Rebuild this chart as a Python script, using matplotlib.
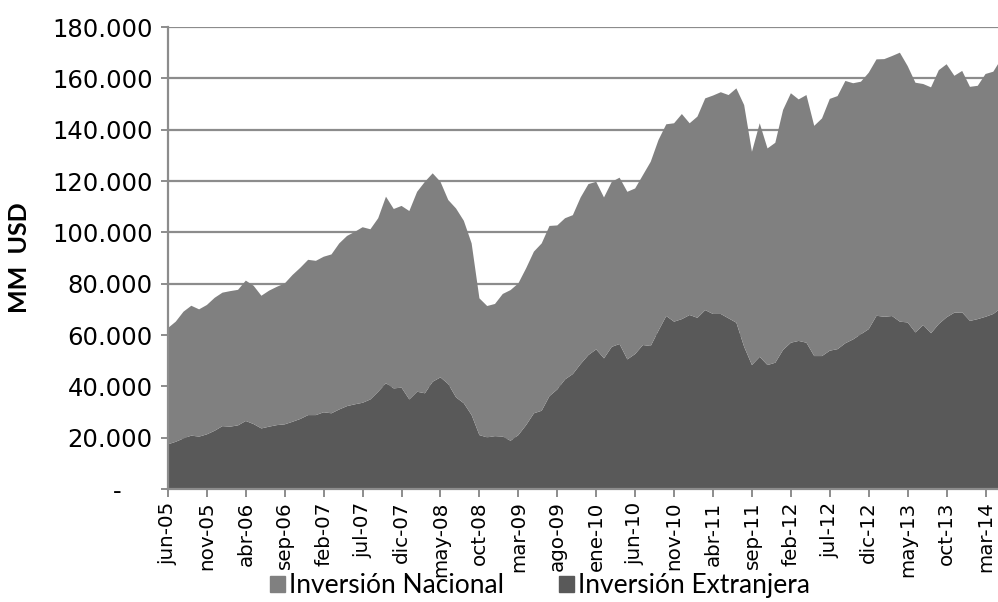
import matplotlib
matplotlib.use("Agg")
import matplotlib.pyplot as plt
import numpy as np
from matplotlib.ticker import FuncFormatter
from matplotlib.patches import Patch

# monthly data, jun-05 .. may-14 (MM USD, thousands)
extranjera = [17.4, 18.4, 19.7, 20.8, 20.4, 21.3, 22.7, 24.5, 24.3, 24.8,
              26.5, 25.3, 23.6, 24.3, 24.9, 25.2, 26.2, 27.3, 28.8, 28.8,
              29.9, 29.5, 31.0, 32.3, 33.0, 33.6, 34.9, 37.9, 41.2, 39.2,
              39.5, 34.9, 37.9, 37.3, 41.8, 43.5, 40.9, 35.7, 33.4, 28.8,
              21.0, 20.1, 20.6, 20.4, 18.8, 21.0, 24.9, 29.5, 30.5, 36.2,
              38.8, 42.7, 44.8, 48.7, 52.2, 54.4, 50.9, 55.4, 56.5, 50.5,
              52.6, 56.1, 55.7, 61.7, 67.4, 65.2, 66.2, 67.8, 66.7, 69.7,
              68.2, 68.2, 66.5, 64.8, 55.4, 48.3, 51.5, 48.3, 49.2, 54.2,
              57.0, 57.7, 57.0, 51.8, 51.8, 53.9, 54.5, 56.8, 58.3, 60.3,
              62.3, 67.5, 67.1, 67.4, 65.2, 64.9, 61.0, 63.9, 60.7, 64.3,
              66.9, 68.7, 68.8, 65.5, 66.2, 67.1, 68.2, 70.5]
nacional = [45.3, 46.8, 49.4, 50.6, 49.6, 50.4, 51.8, 52.0, 52.8, 52.8,
            54.7, 53.9, 51.7, 53.0, 53.9, 54.9, 57.2, 58.9, 60.5, 60.1,
            60.6, 61.9, 64.7, 66.3, 67.2, 68.4, 66.3, 67.6, 72.7, 69.9,
            70.8, 73.4, 77.9, 82.4, 81.2, 76.2, 71.7, 73.6, 71.1, 66.9,
            53.3, 51.2, 51.5, 55.6, 58.7, 59.1, 61.1, 63.0, 65.2, 66.3,
            63.9, 62.8, 61.9, 64.9, 66.6, 65.3, 62.7, 64.3, 64.8, 65.3,
            64.5, 66.2, 71.8, 74.3, 74.7, 77.3, 79.9, 74.7, 78.4, 82.5,
            85.1, 86.4, 87.0, 91.3, 94.2, 83.1, 91.0, 84.4, 85.7, 93.5,
            97.2, 94.1, 96.5, 89.7, 92.6, 98.1, 98.6, 102.2, 99.8, 98.4,
            99.9, 99.9, 100.4, 101.3, 104.8, 99.9, 97.3, 93.9, 95.8, 98.9,
            98.6, 92.3, 94.1, 91.2, 90.9, 94.6, 94.4, 97.0]
tick_labels = ["jun-05", "nov-05", "abr-06", "sep-06", "feb-07", "jul-07",
               "dic-07", "may-08", "oct-08", "mar-09", "ago-09", "ene-10",
               "jun-10", "nov-10", "abr-11", "sep-11", "feb-12", "jul-12",
               "dic-12", "may-13", "oct-13", "mar-14"]

plt.rcParams["font.family"] = ["DejaVu Sans"]

ext = np.array(extranjera) * 1000
nac = np.array(nacional) * 1000
x = np.arange(len(ext))

c_nac = "#808080"
c_ext = "#595959"
grid_c = "#8c8c8c"

fig = plt.figure(figsize=(9.98, 6.02), dpi=100)
ax = fig.add_axes([0.1683, 0.1877, 0.8317, 0.7674])

ax.stackplot(x, ext, nac, colors=[c_ext, c_nac], linewidth=0)

ax.set_ylim(0, 180000)
ax.set_xlim(0, 106.6)
ax.set_yticks(np.arange(0, 180001, 20000))
ax.yaxis.set_major_formatter(FuncFormatter(
    lambda v, p: "-    " if v == 0 else "{:,.0f}".format(v).replace(",", ".")))
ax.set_xticks(np.arange(0, len(ext), 5))
ax.set_xticklabels(tick_labels, rotation=90)

ax.grid(axis="y", color=grid_c, linewidth=1.6)
ax.set_axisbelow(True)
for s in ["top", "right"]:
    ax.spines[s].set_visible(False)
for s in ["left", "bottom"]:
    ax.spines[s].set_color(grid_c)
    ax.spines[s].set_linewidth(1.6)
    ax.spines[s].set_zorder(5)

ax.tick_params(axis="y", labelsize=17.5, length=5, color=grid_c, width=1.4, pad=6)
ax.tick_params(axis="x", labelsize=14.3, length=6, color=grid_c, width=1.4, pad=3)
ax.set_ylabel("MM  USD", fontsize=18, fontweight="bold", family="Lato", labelpad=15)

handles = [Patch(color=c_nac), Patch(color=c_ext)]
fig.legend(handles, ["Inversión Nacional", "Inversión Extranjera"],
           loc="center", bbox_to_anchor=(0.541, 0.027), ncol=2, frameon=False,
           prop={"family": "Lato", "size": 19}, handlelength=0.57,
           handleheight=0.57, handletextpad=0.15, columnspacing=2.1)

fig.savefig("out.png", dpi=100)
